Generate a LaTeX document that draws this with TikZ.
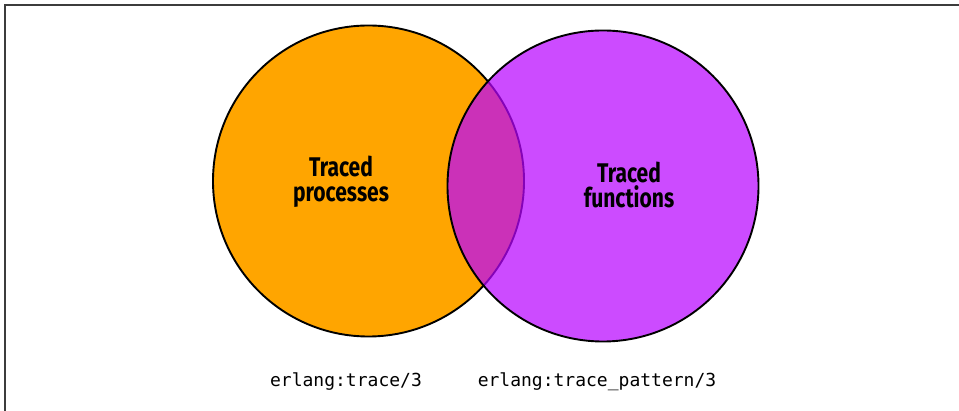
\documentclass[tikz,border=0pt]{standalone}
\usepackage{fontspec}
\setmonofont{DejaVu Sans Mono}
\newfontfamily\condsans[FakeStretch=0.78]{Fira Sans}
\usepackage{xcolor}
\usepackage{tikz}

\definecolor{procorange}{RGB}{255,165,0}
\definecolor{funcpurple}{RGB}{184,5,255}
\definecolor{framegray}{RGB}{60,60,60}

\begin{document}
\begin{tikzpicture}[
  x=1pt, y=-1pt,
  % ---- node styles ----
  setcircle/.style={
    circle, draw=black, line width=1.9pt,
    minimum size=311pt, inner sep=0pt
  },
  setlabel/.style={
    align=center, font=\condsans\bfseries\fontsize{27}{25.5}\selectfont,
    inner sep=0pt
  },
  calllabel/.style={
    anchor=base, font=\ttfamily\fontsize{18}{20}\selectfont,
    inner sep=0pt
  },
]
\useasboundingbox (0,0) rectangle (959,411);

% ---- Frame ----
\draw[framegray, line width=1.4pt] (959,5) -- (5,5) -- (5,411);

% ---- Traced processes ----
\node[setcircle, fill=procorange] (procs) at (368.5,181) {};

% ---- Traced functions (see-through) ----
\node[setcircle, fill=funcpurple, fill opacity=0.72] (funcs) at (603,186) {};

% ---- Set labels ----
\node[setlabel] (procstext) at (341,182) {Traced\\processes};
\node[setlabel] (funcstext) at (629,185) {Traced\\functions};

% ---- Calls ----
\node[calllabel] (tracecall) at (346,387) {erlang:trace/3};
\node[calllabel] (patterncall) at (597,387) {erlang:trace\_pattern/3};

\end{tikzpicture}
\end{document}
